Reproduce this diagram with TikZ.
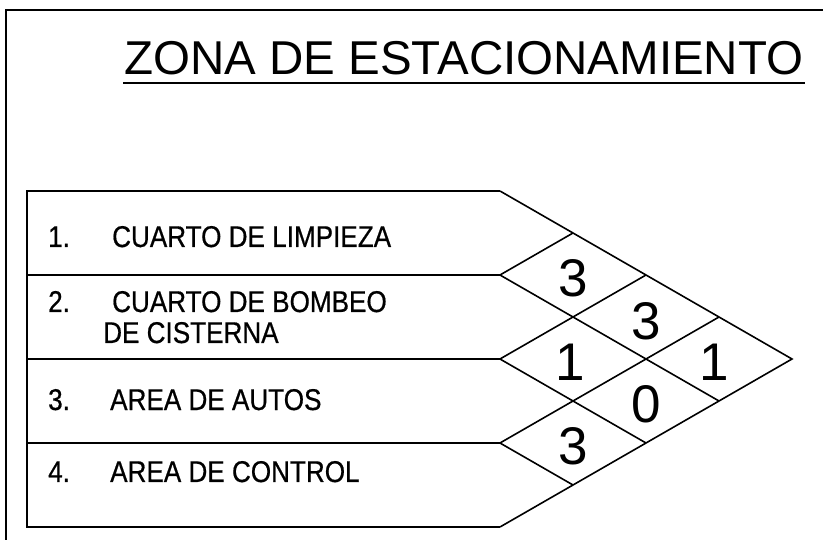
\documentclass[tikz,border=0pt]{standalone}
\usepackage{fontspec}
\setmainfont{Liberation Sans}
\newfontfamily\narrowfont[FakeStretch=0.87,FakeBold=0.6]{Liberation Sans}
\begin{document}
\begin{tikzpicture}[x=1pt,y=-1pt,
  frameline/.style={line width=2.6pt},
  gridline/.style={line width=1.6pt},
  rowtext/.style={anchor=base west,inner sep=0pt,font=\narrowfont\fontsize{30}{31}\selectfont},
  digit/.style={inner sep=0pt,font=\fontsize{53}{60}\selectfont},
  titletext/.style={anchor=base west,inner sep=0pt,font=\fontsize{47.5}{50}\selectfont}]
\useasboundingbox (0,0) rectangle (823,540);
% frame
\draw[frameline] (6,540) -- (6,10) -- (823,10);
% title
\node[titletext] (title) at (124,75) {ZONA DE ESTACIONAMIENTO};
\draw[line width=2.4pt] (123,83) -- (805,83);
% table
\draw[gridline] (500,191) -- (27,191) -- (27,527) -- (500,527);
\draw[gridline] (27,275) -- (500,275);
\draw[gridline] (27,359) -- (500,359);
\draw[gridline] (27,443) -- (500,443);
% arrow-shaped grid
\draw[gridline] (500,191) -- (792,359) -- (500,527);
\draw[gridline] (500,275) -- (719,401);
\draw[gridline] (500,359) -- (646,443);
\draw[gridline] (500,443) -- (573,485);
\draw[gridline] (500,443) -- (719,317);
\draw[gridline] (500,359) -- (646,275);
\draw[gridline] (500,275) -- (573,233);
% row labels
\node[rowtext] (n1) at (48,247) {1.};
\node[rowtext] (t1) at (112,247) {CUARTO DE LIMPIEZA};
\node[rowtext] (n2) at (48,312) {2.};
\node[rowtext] (t2) at (112,312) {CUARTO DE BOMBEO};
\node[rowtext] (t2b) at (103,343) {DE CISTERNA};
\node[rowtext] (n3) at (48,410) {3.};
\node[rowtext] (t3) at (110,410) {AREA DE AUTOS};
\node[rowtext] (n4) at (48,482) {4.};
\node[rowtext] (t4) at (110,482) {AREA DE CONTROL};
% digits
\node[digit] (d1) at (573,278) {3};
\node[digit] (d2) at (646,321) {3};
\node[digit] (d3) at (570,362) {1};
\node[digit] (d4) at (714,362) {1};
\node[digit] (d5) at (646,404) {0};
\node[digit] (d6) at (573,446) {3};
\end{tikzpicture}
\end{document}
